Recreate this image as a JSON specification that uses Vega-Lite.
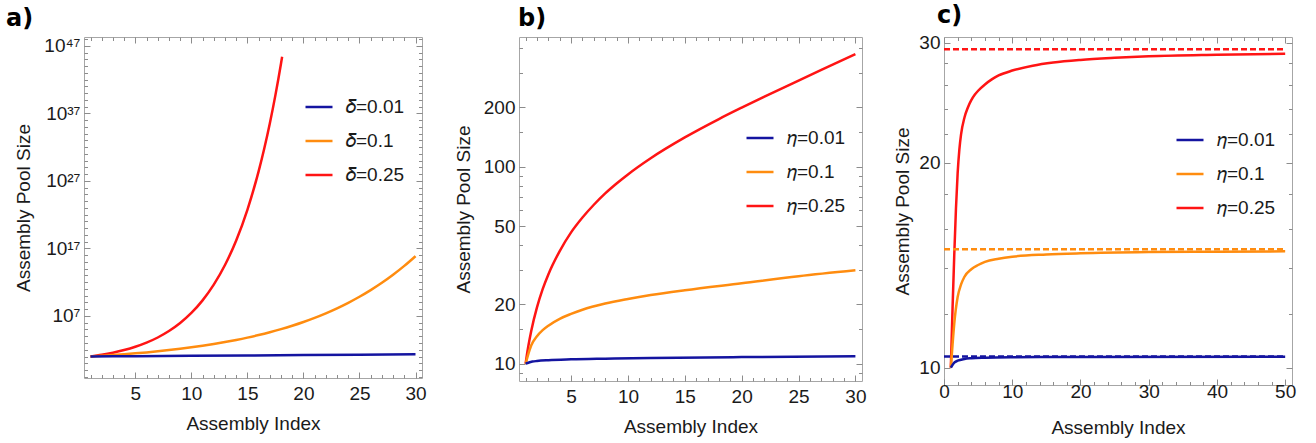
{
  "$schema": "https://vega.github.io/schema/vega-lite/v6.json",
  "padding": {"left": 5, "top": 3, "right": 5, "bottom": 5},
  "config": {
    "font": "Liberation Sans",
    "view": {"stroke": "#a6a6a6", "strokeWidth": 1},
    "axis": {"grid": false, "domain": false, "labelFont": "Liberation Sans", "labelFontSize": 19, "titleFont": "Liberation Sans", "titleFontSize": 19, "titleFontWeight": "normal", "labelColor": "#1a1a1a", "titleColor": "#1a1a1a", "tickColor": "#8c8c8c", "tickWidth": 1, "labelOverlap": false, "labelFlush": false},
    "legend": {"orient": "none", "title": null, "symbolType": "stroke", "symbolSize": 729, "symbolStrokeWidth": 2.5, "labelFont": "Liberation Sans", "labelFontSize": 19, "labelColor": "#1a1a1a", "padding": 0, "rowPadding": 9, "labelOffset": 12},
    "line": {"strokeWidth": 2.5}
  },
  "datasets": {
    "a": [
      {"s": "𝛿=0.25", "x": 1, "y": 10}, {"s": "𝛿=0.25", "x": 2, "y": 17.78}, {"s": "𝛿=0.25", "x": 3, "y": 36.52}, {"s": "𝛿=0.25", "x": 4, "y": 89.77}, {"s": "𝛿=0.25", "x": 5, "y": 276.3}, {"s": "𝛿=0.25", "x": 6, "y": 1126.5}, {"s": "𝛿=0.25", "x": 7, "y": 6527}, {"s": "𝛿=0.25", "x": 8, "y": 58680}, {"s": "𝛿=0.25", "x": 9, "y": 913200}, {"s": "𝛿=0.25", "x": 10, "y": 2.822e7}, {"s": "𝛿=0.25", "x": 11, "y": 2.057e9}, {"s": "𝛿=0.25", "x": 12, "y": 4.38e11}, {"s": "𝛿=0.25", "x": 13, "y": 3.563e14}, {"s": "𝛿=0.25", "x": 14, "y": 1.548e18}, {"s": "𝛿=0.25", "x": 15, "y": 5.463e22}, {"s": "𝛿=0.25", "x": 16, "y": 2.641e28}, {"s": "𝛿=0.25", "x": 16.5, "y": 6.03e31}, {"s": "𝛿=0.25", "x": 17, "y": 3.366e35}, {"s": "𝛿=0.25", "x": 17.5, "y": 5.25e39}, {"s": "𝛿=0.25", "x": 18, "y": 2.564e44}, {"s": "𝛿=0.25", "x": 18.1, "y": 2.57e45},
      {"s": "𝛿=0.1", "x": 1, "y": 10}, {"s": "𝛿=0.1", "x": 2, "y": 12.59}, {"s": "𝛿=0.1", "x": 3, "y": 16.22}, {"s": "𝛿=0.1", "x": 4, "y": 21.43}, {"s": "𝛿=0.1", "x": 5, "y": 29.11}, {"s": "𝛿=0.1", "x": 6, "y": 40.78}, {"s": "𝛿=0.1", "x": 7, "y": 59.1}, {"s": "𝛿=0.1", "x": 8, "y": 88.86}, {"s": "𝛿=0.1", "x": 9, "y": 139.2}, {"s": "𝛿=0.1", "x": 10, "y": 228.0}, {"s": "𝛿=0.1", "x": 11, "y": 392.4}, {"s": "𝛿=0.1", "x": 12, "y": 713.1}, {"s": "𝛿=0.1", "x": 13, "y": 1375}, {"s": "𝛿=0.1", "x": 14, "y": 2834}, {"s": "𝛿=0.1", "x": 15, "y": 6274}, {"s": "𝛿=0.1", "x": 16, "y": 15040}, {"s": "𝛿=0.1", "x": 17, "y": 39360}, {"s": "𝛿=0.1", "x": 18, "y": 113400}, {"s": "𝛿=0.1", "x": 19, "y": 363000}, {"s": "𝛿=0.1", "x": 20, "y": 1.306e6}, {"s": "𝛿=0.1", "x": 21, "y": 5.341e6}, {"s": "𝛿=0.1", "x": 22, "y": 2.513e7}, {"s": "𝛿=0.1", "x": 23, "y": 1.381e8}, {"s": "𝛿=0.1", "x": 24, "y": 9.0e8}, {"s": "𝛿=0.1", "x": 25, "y": 7.075e9}, {"s": "𝛿=0.1", "x": 26, "y": 6.833e10}, {"s": "𝛿=0.1", "x": 27, "y": 8.28e11}, {"s": "𝛿=0.1", "x": 28, "y": 1.288e13}, {"s": "𝛿=0.1", "x": 29, "y": 2.636e14}, {"s": "𝛿=0.1", "x": 30, "y": 7.297e15},
      {"s": "𝛿=0.01", "x": 1, "y": 10}, {"s": "𝛿=0.01", "x": 5, "y": 10.98}, {"s": "𝛿=0.01", "x": 10, "y": 12.4}, {"s": "𝛿=0.01", "x": 15, "y": 14.11}, {"s": "𝛿=0.01", "x": 20, "y": 16.15}, {"s": "𝛿=0.01", "x": 25, "y": 18.61}, {"s": "𝛿=0.01", "x": 30, "y": 21.6}
    ],
    "b": [
      {"s": "𝜂=0.25", "x": 1, "y": 10}, {"s": "𝜂=0.25", "x": 1.1, "y": 10.95}, {"s": "𝜂=0.25", "x": 1.25, "y": 12.36}, {"s": "𝜂=0.25", "x": 1.5, "y": 14.7}, {"s": "𝜂=0.25", "x": 2, "y": 19.3}, {"s": "𝜂=0.25", "x": 2.5, "y": 23.9}, {"s": "𝜂=0.25", "x": 3, "y": 28.4}, {"s": "𝜂=0.25", "x": 4, "y": 37.3}, {"s": "𝜂=0.25", "x": 5, "y": 46.4}, {"s": "𝜂=0.25", "x": 6, "y": 55.2}, {"s": "𝜂=0.25", "x": 7, "y": 64.1}, {"s": "𝜂=0.25", "x": 8, "y": 73.2}, {"s": "𝜂=0.25", "x": 9, "y": 82.2}, {"s": "𝜂=0.25", "x": 10, "y": 91.4}, {"s": "𝜂=0.25", "x": 12, "y": 110.4}, {"s": "𝜂=0.25", "x": 15, "y": 140.8}, {"s": "𝜂=0.25", "x": 18, "y": 174.5}, {"s": "𝜂=0.25", "x": 20, "y": 199.3}, {"s": "𝜂=0.25", "x": 22, "y": 226.8}, {"s": "𝜂=0.25", "x": 25, "y": 273.7}, {"s": "𝜂=0.25", "x": 28, "y": 329.5}, {"s": "𝜂=0.25", "x": 30, "y": 372.9},
      {"s": "𝜂=0.1", "x": 1, "y": 10}, {"s": "𝜂=0.1", "x": 1.2, "y": 11.0}, {"s": "𝜂=0.1", "x": 1.5, "y": 12.4}, {"s": "𝜂=0.1", "x": 2, "y": 13.8}, {"s": "𝜂=0.1", "x": 2.5, "y": 14.8}, {"s": "𝜂=0.1", "x": 3, "y": 15.6}, {"s": "𝜂=0.1", "x": 4, "y": 16.9}, {"s": "𝜂=0.1", "x": 5, "y": 17.9}, {"s": "𝜂=0.1", "x": 6, "y": 18.8}, {"s": "𝜂=0.1", "x": 8, "y": 20.2}, {"s": "𝜂=0.1", "x": 10, "y": 21.3}, {"s": "𝜂=0.1", "x": 12, "y": 22.3}, {"s": "𝜂=0.1", "x": 15, "y": 23.6}, {"s": "𝜂=0.1", "x": 20, "y": 25.6}, {"s": "𝜂=0.1", "x": 25, "y": 27.8}, {"s": "𝜂=0.1", "x": 30, "y": 29.8},
      {"s": "𝜂=0.01", "x": 1, "y": 10}, {"s": "𝜂=0.01", "x": 1.3, "y": 10.15}, {"s": "𝜂=0.01", "x": 1.6, "y": 10.25}, {"s": "𝜂=0.01", "x": 2, "y": 10.32}, {"s": "𝜂=0.01", "x": 3, "y": 10.42}, {"s": "𝜂=0.01", "x": 5, "y": 10.52}, {"s": "𝜂=0.01", "x": 8, "y": 10.6}, {"s": "𝜂=0.01", "x": 12, "y": 10.68}, {"s": "𝜂=0.01", "x": 20, "y": 10.8}, {"s": "𝜂=0.01", "x": 30, "y": 10.92}
    ],
    "c": [
      {"s": "𝜂=0.25", "x": 1, "y": 10}, {"s": "𝜂=0.25", "x": 1.25, "y": 12.2}, {"s": "𝜂=0.25", "x": 1.5, "y": 14.6}, {"s": "𝜂=0.25", "x": 1.75, "y": 17.1}, {"s": "𝜂=0.25", "x": 2, "y": 19.3}, {"s": "𝜂=0.25", "x": 2.25, "y": 20.9}, {"s": "𝜂=0.25", "x": 2.5, "y": 22.0}, {"s": "𝜂=0.25", "x": 3, "y": 23.3}, {"s": "𝜂=0.25", "x": 3.5, "y": 24.1}, {"s": "𝜂=0.25", "x": 4, "y": 24.7}, {"s": "𝜂=0.25", "x": 4.5, "y": 25.15}, {"s": "𝜂=0.25", "x": 5, "y": 25.5}, {"s": "𝜂=0.25", "x": 6, "y": 26.05}, {"s": "𝜂=0.25", "x": 7, "y": 26.5}, {"s": "𝜂=0.25", "x": 8, "y": 26.85}, {"s": "𝜂=0.25", "x": 10, "y": 27.3}, {"s": "𝜂=0.25", "x": 13, "y": 27.75}, {"s": "𝜂=0.25", "x": 16, "y": 28.05}, {"s": "𝜂=0.25", "x": 20, "y": 28.3}, {"s": "𝜂=0.25", "x": 25, "y": 28.5}, {"s": "𝜂=0.25", "x": 30, "y": 28.65}, {"s": "𝜂=0.25", "x": 40, "y": 28.8}, {"s": "𝜂=0.25", "x": 50, "y": 28.9},
      {"s": "𝜂=0.1", "x": 1, "y": 10}, {"s": "𝜂=0.1", "x": 1.25, "y": 10.8}, {"s": "𝜂=0.1", "x": 1.5, "y": 11.6}, {"s": "𝜂=0.1", "x": 2, "y": 12.7}, {"s": "𝜂=0.1", "x": 2.5, "y": 13.25}, {"s": "𝜂=0.1", "x": 3, "y": 13.6}, {"s": "𝜂=0.1", "x": 4, "y": 13.95}, {"s": "𝜂=0.1", "x": 5, "y": 14.15}, {"s": "𝜂=0.1", "x": 6, "y": 14.3}, {"s": "𝜂=0.1", "x": 8, "y": 14.45}, {"s": "𝜂=0.1", "x": 10, "y": 14.55}, {"s": "𝜂=0.1", "x": 15, "y": 14.66}, {"s": "𝜂=0.1", "x": 20, "y": 14.72}, {"s": "𝜂=0.1", "x": 30, "y": 14.78}, {"s": "𝜂=0.1", "x": 40, "y": 14.8}, {"s": "𝜂=0.1", "x": 50, "y": 14.82},
      {"s": "𝜂=0.01", "x": 1, "y": 10}, {"s": "𝜂=0.01", "x": 1.5, "y": 10.17}, {"s": "𝜂=0.01", "x": 2, "y": 10.24}, {"s": "𝜂=0.01", "x": 3, "y": 10.3}, {"s": "𝜂=0.01", "x": 4, "y": 10.325}, {"s": "𝜂=0.01", "x": 6, "y": 10.345}, {"s": "𝜂=0.01", "x": 10, "y": 10.36}, {"s": "𝜂=0.01", "x": 20, "y": 10.37}, {"s": "𝜂=0.01", "x": 50, "y": 10.375}
    ],
    "casym": [
      {"s": "𝜂=0.25", "x": 0, "y": 29.34}, {"s": "𝜂=0.25", "x": 50, "y": 29.34},
      {"s": "𝜂=0.1", "x": 0, "y": 14.92}, {"s": "𝜂=0.1", "x": 50, "y": 14.92},
      {"s": "𝜂=0.01", "x": 0, "y": 10.39}, {"s": "𝜂=0.01", "x": 50, "y": 10.39}
    ]
  },
  "resolve": {"scale": {"color": "independent"}, "legend": {"color": "independent"}},
  "spacing": 26,
  "hconcat": [
    {
      "width": 338, "height": 341,
      "title": {"text": "a)", "anchor": "start", "frame": "group", "dx": -78, "offset": -13, "baseline": "alphabetic", "font": "DejaVu Sans", "fontSize": 24, "fontWeight": "bold", "color": "#000000"},
      "data": {"name": "a"},
      "resolve": {"axis": {"x": "independent", "y": "independent"}},
      "layer": [
        {
          "mark": {"type": "line", "clip": true, "interpolate": "monotone"},
          "encoding": {
            "x": {"field": "x", "type": "quantitative", "scale": {"domain": [0.42, 30.58], "nice": false, "zero": false}, "axis": {"orient": "bottom", "values": [5, 10, 15, 20, 25, 30], "tickSize": -6, "labelPadding": 12, "title": "Assembly Index", "titlePadding": 11}},
            "y": {"field": "y", "type": "quantitative", "scale": {"type": "log", "domain": [0.00653, 2.15e48], "nice": false}, "axis": {"orient": "left", "values": [1e7, 1e17, 1e27, 1e37, 1e47], "tickSize": -6, "labelPadding": 10, "labelExpr": "datum.value > 1e46 ? '10⁴⁷' : datum.value > 1e36 ? '10³⁷' : datum.value > 1e26 ? '10²⁷' : datum.value > 1e16 ? '10¹⁷' : '10⁷'", "title": "Assembly Pool Size", "titlePadding": 10}},
            "color": {"field": "s", "type": "nominal", "scale": {"domain": ["𝛿=0.01", "𝛿=0.1", "𝛿=0.25"], "range": ["#1414a0", "#ff8c0f", "#ff1414"]}, "legend": {"legendX": 220, "legendY": 55}}
          }
        },
        {
          "mark": {"type": "line", "strokeOpacity": 0},
          "encoding": {
            "x": {"field": "x", "type": "quantitative", "scale": {"domain": [0.42, 30.58], "nice": false, "zero": false}, "axis": {"orient": "bottom", "values": [1,2,3,4,5,6,7,8,9,10,11,12,13,14,15,16,17,18,19,20,21,22,23,24,25,26,27,28,29,30], "tickSize": -3.5, "labels": false, "title": null}},
            "y": {"field": "y", "type": "quantitative", "scale": {"type": "log", "domain": [0.00653, 2.15e48], "nice": false}, "axis": {"orient": "left", "values": [1e-2,1e-1,1,1e1,1e2,1e3,1e4,1e5,1e6,1e7,1e8,1e9,1e10,1e11,1e12,1e13,1e14,1e15,1e16,1e17,1e18,1e19,1e20,1e21,1e22,1e23,1e24,1e25,1e26,1e27,1e28,1e29,1e30,1e31,1e32,1e33,1e34,1e35,1e36,1e37,1e38,1e39,1e40,1e41,1e42,1e43,1e44,1e45,1e46,1e47,1e48], "tickSize": -3.5, "labels": false, "title": null}},
            "detail": {"field": "s"}
          }
        },
        {
          "mark": {"type": "line", "strokeOpacity": 0},
          "encoding": {
            "x": {"field": "x", "type": "quantitative", "scale": {"domain": [0.42, 30.58], "nice": false, "zero": false}, "axis": {"orient": "top", "values": [5, 10, 15, 20, 25, 30], "tickSize": -6, "labels": false, "title": null}},
            "y": {"field": "y", "type": "quantitative", "scale": {"type": "log", "domain": [0.00653, 2.15e48], "nice": false}, "axis": {"orient": "right", "values": [1e7, 1e17, 1e27, 1e37, 1e47], "tickSize": -6, "labels": false, "title": null}},
            "detail": {"field": "s"}
          }
        },
        {
          "mark": {"type": "line", "strokeOpacity": 0},
          "encoding": {
            "x": {"field": "x", "type": "quantitative", "scale": {"domain": [0.42, 30.58], "nice": false, "zero": false}, "axis": {"orient": "top", "values": [1,2,3,4,5,6,7,8,9,10,11,12,13,14,15,16,17,18,19,20,21,22,23,24,25,26,27,28,29,30], "tickSize": -3.5, "labels": false, "title": null}},
            "y": {"field": "y", "type": "quantitative", "scale": {"type": "log", "domain": [0.00653, 2.15e48], "nice": false}, "axis": {"orient": "right", "values": [1e-2,1e-1,1,1e1,1e2,1e3,1e4,1e5,1e6,1e7,1e8,1e9,1e10,1e11,1e12,1e13,1e14,1e15,1e16,1e17,1e18,1e19,1e20,1e21,1e22,1e23,1e24,1e25,1e26,1e27,1e28,1e29,1e30,1e31,1e32,1e33,1e34,1e35,1e36,1e37,1e38,1e39,1e40,1e41,1e42,1e43,1e44,1e45,1e46,1e47,1e48], "tickSize": -3.5, "labels": false, "title": null}},
            "detail": {"field": "s"}
          }
        }
      ]
    },
    {
      "width": 343, "height": 344,
      "title": {"text": "b)", "anchor": "start", "frame": "group", "dx": -1, "offset": -13, "baseline": "alphabetic", "font": "DejaVu Sans", "fontSize": 24, "fontWeight": "bold", "color": "#000000"},
      "data": {"name": "b"},
      "resolve": {"axis": {"x": "independent", "y": "independent"}},
      "layer": [
        {
          "mark": {"type": "line", "clip": true, "interpolate": "monotone"},
          "encoding": {
            "x": {"field": "x", "type": "quantitative", "scale": {"domain": [0.42, 30.58], "nice": false, "zero": false}, "axis": {"orient": "bottom", "values": [5, 10, 15, 20, 25, 30], "tickSize": -6, "labelPadding": 12, "title": "Assembly Index", "titlePadding": 11}},
            "y": {"field": "y", "type": "quantitative", "scale": {"type": "log", "domain": [8.17, 455.3], "nice": false}, "axis": {"orient": "left", "values": [10, 20, 50, 100, 200], "tickSize": -6, "labelPadding": 10, "title": "Assembly Pool Size", "titlePadding": 10}},
            "color": {"field": "s", "type": "nominal", "scale": {"domain": ["𝜂=0.01", "𝜂=0.1", "𝜂=0.25"], "range": ["#1414a0", "#ff8c0f", "#ff1414"]}, "legend": {"legendX": 226, "legendY": 86}}
          }
        },
        {
          "mark": {"type": "line", "strokeOpacity": 0},
          "encoding": {
            "x": {"field": "x", "type": "quantitative", "scale": {"domain": [0.42, 30.58], "nice": false, "zero": false}, "axis": {"orient": "bottom", "values": [1,2,3,4,5,6,7,8,9,10,11,12,13,14,15,16,17,18,19,20,21,22,23,24,25,26,27,28,29,30], "tickSize": -3.5, "labels": false, "title": null}},
            "y": {"field": "y", "type": "quantitative", "scale": {"type": "log", "domain": [8.17, 455.3], "nice": false}, "axis": {"orient": "left", "values": [9, 15, 30, 40, 60, 70, 80, 90, 150, 300, 400], "tickSize": -3.5, "labels": false, "title": null}},
            "detail": {"field": "s"}
          }
        },
        {
          "mark": {"type": "line", "strokeOpacity": 0},
          "encoding": {
            "x": {"field": "x", "type": "quantitative", "scale": {"domain": [0.42, 30.58], "nice": false, "zero": false}, "axis": {"orient": "top", "values": [5, 10, 15, 20, 25, 30], "tickSize": -6, "labels": false, "title": null}},
            "y": {"field": "y", "type": "quantitative", "scale": {"type": "log", "domain": [8.17, 455.3], "nice": false}, "axis": {"orient": "right", "values": [10, 20, 50, 100, 200], "tickSize": -6, "labels": false, "title": null}},
            "detail": {"field": "s"}
          }
        },
        {
          "mark": {"type": "line", "strokeOpacity": 0},
          "encoding": {
            "x": {"field": "x", "type": "quantitative", "scale": {"domain": [0.42, 30.58], "nice": false, "zero": false}, "axis": {"orient": "top", "values": [1,2,3,4,5,6,7,8,9,10,11,12,13,14,15,16,17,18,19,20,21,22,23,24,25,26,27,28,29,30], "tickSize": -3.5, "labels": false, "title": null}},
            "y": {"field": "y", "type": "quantitative", "scale": {"type": "log", "domain": [8.17, 455.3], "nice": false}, "axis": {"orient": "right", "values": [9, 15, 30, 40, 60, 70, 80, 90, 150, 300, 400], "tickSize": -3.5, "labels": false, "title": null}},
            "detail": {"field": "s"}
          }
        }
      ]
    },
    {
      "width": 348, "height": 348,
      "title": {"text": "c)", "anchor": "start", "frame": "group", "dx": -7, "offset": -13, "baseline": "alphabetic", "font": "DejaVu Sans", "fontSize": 24, "fontWeight": "bold", "color": "#000000"},
      "resolve": {"axis": {"x": "independent", "y": "independent"}},
      "layer": [
        {
          "data": {"name": "c"},
          "mark": {"type": "line", "clip": true, "interpolate": "monotone"},
          "encoding": {
            "x": {"field": "x", "type": "quantitative", "scale": {"domain": [0, 51], "nice": false, "zero": false}, "axis": {"orient": "bottom", "values": [0, 10, 20, 30, 40, 50], "tickSize": -6, "labelPadding": 3, "title": "Assembly Index", "titlePadding": 17}},
            "y": {"field": "y", "type": "quantitative", "scale": {"type": "log", "domain": [9.432, 30.58], "nice": false}, "axis": {"orient": "left", "values": [10, 20, 30], "tickSize": -6, "labelPadding": 10, "title": "Assembly Pool Size", "titlePadding": 6}},
            "color": {"field": "s", "type": "nominal", "scale": {"domain": ["𝜂=0.01", "𝜂=0.1", "𝜂=0.25"], "range": ["#1414a0", "#ff8c0f", "#ff1414"]}, "legend": {"legendX": 231, "legendY": 88}}
          }
        },
        {
          "data": {"name": "casym"},
          "transform": [{"filter": {"field": "s", "equal": "𝜂=0.25"}}],
          "mark": {"type": "line", "clip": true, "strokeDash": [6, 3], "strokeWidth": 2.5, "color": "#ff1414"},
          "encoding": {
            "x": {"field": "x", "type": "quantitative", "scale": {"domain": [0, 51], "nice": false, "zero": false}, "axis": {"orient": "bottom", "values": [2,4,6,8,10,12,14,16,18,20,22,24,26,28,30,32,34,36,38,40,42,44,46,48,50], "tickSize": -3.5, "labels": false, "title": null}},
            "y": {"field": "y", "type": "quantitative", "scale": {"type": "log", "domain": [9.432, 30.58], "nice": false}, "axis": {"orient": "left", "values": [12, 14, 16, 18, 22, 24, 26, 28], "tickSize": -3.5, "labels": false, "title": null}}
          }
        },
        {
          "data": {"name": "casym"},
          "transform": [{"filter": {"field": "s", "equal": "𝜂=0.1"}}],
          "mark": {"type": "line", "clip": true, "strokeDash": [6, 3], "strokeWidth": 2.5, "color": "#ff8c0f"},
          "encoding": {
            "x": {"field": "x", "type": "quantitative", "scale": {"domain": [0, 51], "nice": false, "zero": false}, "axis": {"orient": "top", "values": [0, 10, 20, 30, 40, 50], "tickSize": -6, "labels": false, "title": null}},
            "y": {"field": "y", "type": "quantitative", "scale": {"type": "log", "domain": [9.432, 30.58], "nice": false}, "axis": {"orient": "right", "values": [10, 20, 30], "tickSize": -6, "labels": false, "title": null}}
          }
        },
        {
          "data": {"name": "casym"},
          "transform": [{"filter": {"field": "s", "equal": "𝜂=0.01"}}],
          "mark": {"type": "line", "clip": true, "strokeDash": [6, 3], "strokeWidth": 2.5, "color": "#1414a0"},
          "encoding": {
            "x": {"field": "x", "type": "quantitative", "scale": {"domain": [0, 51], "nice": false, "zero": false}, "axis": {"orient": "top", "values": [2,4,6,8,10,12,14,16,18,20,22,24,26,28,30,32,34,36,38,40,42,44,46,48,50], "tickSize": -3.5, "labels": false, "title": null}},
            "y": {"field": "y", "type": "quantitative", "scale": {"type": "log", "domain": [9.432, 30.58], "nice": false}, "axis": {"orient": "right", "values": [12, 14, 16, 18, 22, 24, 26, 28], "tickSize": -3.5, "labels": false, "title": null}}
          }
        }
      ]
    }
  ]
}
